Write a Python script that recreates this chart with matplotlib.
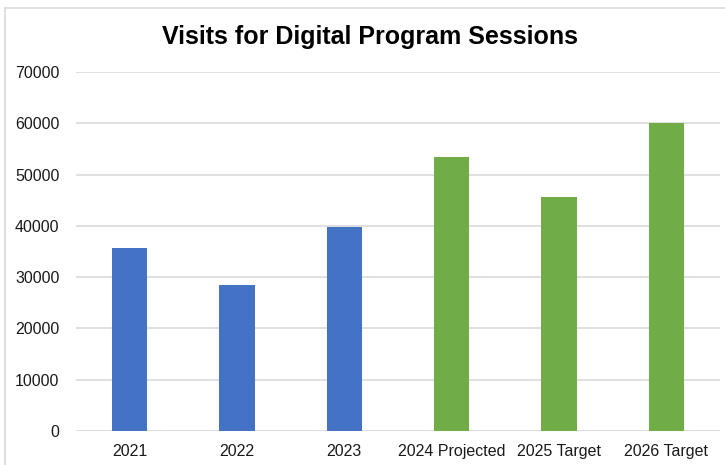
import matplotlib
matplotlib.use("Agg")
import matplotlib.pyplot as plt
from matplotlib.patches import Rectangle

# chart data
categories = ["2021", "2022", "2023", "2024 Projected", "2025 Target", "2026 Target"]
visits = [35600, 28500, 39700, 53400, 45700, 60100]
bar_colors = ["#4472C4", "#4472C4", "#4472C4", "#70AD47", "#70AD47", "#70AD47"]
y_ticks = [0, 10000, 20000, 30000, 40000, 50000, 60000, 70000]

plt.rcParams["font.family"] = ["Liberation Sans", "DejaVu Sans"]

fig = plt.figure(figsize=(7.25, 4.65), dpi=100)
fig.patch.set_facecolor("white")

# light outer frame of the chart box
fig.patches.append(Rectangle((5 / 725, -0.05), 1.2, 1 - 8 / 465 + 0.05,
                             transform=fig.transFigure, fill=False,
                             edgecolor="#d9d9d9", linewidth=1.2))

ax = fig.add_axes([76 / 725, 1 - 431 / 465, 644 / 725, 359 / 465])
x = range(len(categories))
ax.bar(x, visits, width=0.33, color=bar_colors, zorder=3)

ax.set_xlim(-0.5, len(categories) - 0.5)
ax.set_ylim(0, 70000)
ax.set_yticks(y_ticks)
ax.set_yticklabels([str(v) for v in y_ticks])
ax.set_xticks(list(x))
ax.set_xticklabels(categories)
ax.grid(axis="y", color="#d9d9d9", linewidth=1.2, zorder=0)
ax.tick_params(axis="both", length=0, labelsize=11.5, labelcolor="#1a1a1a")
ax.tick_params(axis="y", pad=12)
ax.tick_params(axis="x", pad=9)
for s in ax.spines.values():
    s.set_visible(False)

fig.text(370 / 725, 1 - 37 / 465, "Visits for Digital Program Sessions",
         ha="center", va="center", fontsize=18, fontweight="bold", color="black")

fig.savefig("out.png", dpi=100)
